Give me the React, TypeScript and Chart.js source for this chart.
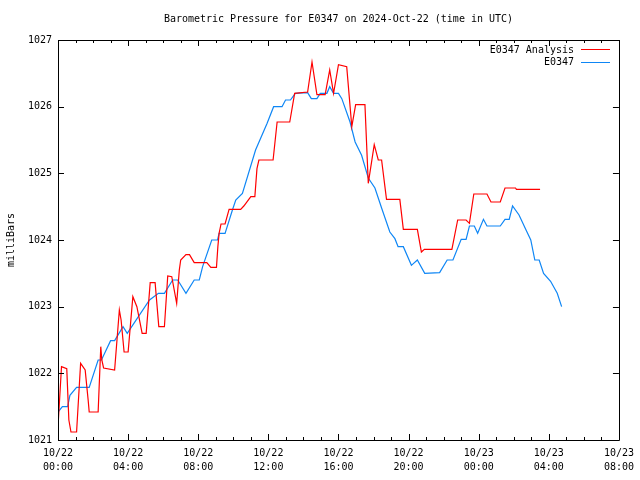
import React, { useEffect, useRef } from "react";
import { Chart, registerables } from "chart.js";

Chart.register(...registerables);

const TITLE = "Barometric Pressure for E0347 on 2024-Oct-22 (time in UTC)";
const Y_LABEL = "milliBars";
const SERIES_NAMES = ["E0347 Analysis", "E0347"];

// x tick labels (every 4 hours from 10/22 00:00)
const xTickDates = ["10/22", "10/22", "10/22", "10/22", "10/22", "10/22", "10/23", "10/23", "10/23"];
const xTickTimes = ["00:00", "04:00", "08:00", "12:00", "16:00", "20:00", "00:00", "04:00", "08:00"];

// hours since 10/22 00:00 UTC
const analysisHours = [
  0.0, 0.2, 0.5, 0.62, 0.74, 1.06, 1.29, 1.55, 1.72, 1.78, 2.29, 2.44, 2.5, 2.6, 3.23, 3.5, 3.6, 3.77, 4.0,
  4.27, 4.5, 4.8, 5.03, 5.26, 5.54, 5.75, 6.07, 6.26, 6.49, 6.77, 6.92, 7.0, 7.3, 7.5, 7.77, 8.49, 8.72,
  9.04, 9.12, 9.19, 9.3, 9.53, 9.76, 10.42, 10.6, 11.0, 11.23, 11.35, 11.46, 12.27, 12.5, 13.22, 13.5,
  14.24, 14.49, 14.77, 15.24, 15.5, 15.72, 16.0, 16.47, 16.76, 16.98, 17.51, 17.7, 18.04, 18.27, 18.46,
  18.74, 19.5, 19.7, 20.5, 20.73, 20.9, 22.47, 22.8, 23.28, 23.47, 23.72, 24.47, 24.7, 25.23, 25.5, 26.1,
  26.15, 27.5,
];
const analysisValues = [
  1021.2, 1022.1, 1022.07, 1021.3, 1021.12, 1021.12, 1022.15, 1022.05, 1021.6, 1021.42, 1021.42, 1022.4,
  1022.2, 1022.08, 1022.05, 1022.95, 1022.8, 1022.32, 1022.32, 1023.15, 1023.0, 1022.6, 1022.6, 1023.36,
  1023.36, 1022.7, 1022.7, 1023.46, 1023.45, 1023.05, 1023.55, 1023.7, 1023.78, 1023.78, 1023.66, 1023.66,
  1023.59, 1023.59, 1023.9, 1024.1, 1024.24, 1024.24, 1024.46, 1024.46, 1024.51, 1024.65, 1024.65, 1025.07,
  1025.2, 1025.2, 1025.77, 1025.77, 1026.2, 1026.22, 1026.67, 1026.18, 1026.18, 1026.55, 1026.2, 1026.63,
  1026.6, 1025.7, 1026.03, 1026.03, 1024.85, 1025.43, 1025.2, 1025.2, 1024.61, 1024.61, 1024.16, 1024.16,
  1023.82, 1023.86, 1023.86, 1024.3, 1024.3, 1024.25, 1024.69, 1024.69, 1024.57, 1024.57, 1024.78, 1024.78,
  1024.76, 1024.76,
];

const observedHours = [
  0, 0.25, 0.55, 0.68, 1.06, 1.78, 2.29, 2.48, 3.0, 3.23, 3.71, 3.95, 5.22, 5.73, 6.07, 6.54, 6.83, 7.3,
  7.77, 8.06, 8.25, 8.77, 9.1, 9.19, 9.53, 9.95, 10.14, 10.52, 11.27, 11.93, 12.3, 12.78, 12.98, 13.26,
  13.54, 14.24, 14.45, 14.77, 14.96, 15.34, 15.5, 15.72, 16.0, 16.19, 16.66, 16.95, 17.32, 17.7, 18.08,
  18.46, 18.93, 19.22, 19.4, 19.7, 20.16, 20.5, 20.92, 21.77, 22.2, 22.53, 23.0, 23.28, 23.47, 23.75,
  23.94, 24.27, 24.47, 25.23, 25.5, 25.74, 25.93, 26.3, 26.7, 26.97, 27.2, 27.45, 27.7, 28.1, 28.48, 28.73,
];
const observedValues = [
  1021.42, 1021.5, 1021.5, 1021.67, 1021.79, 1021.79, 1022.2, 1022.2, 1022.49, 1022.49, 1022.7, 1022.6,
  1023.1, 1023.2, 1023.2, 1023.4, 1023.4, 1023.2, 1023.4, 1023.4, 1023.6, 1024.0, 1024.0, 1024.1, 1024.1,
  1024.45, 1024.6, 1024.7, 1025.35, 1025.75, 1026.0, 1026.0, 1026.1, 1026.1, 1026.2, 1026.21, 1026.12,
  1026.12, 1026.2, 1026.2, 1026.3, 1026.2, 1026.2, 1026.12, 1025.77, 1025.47, 1025.27, 1024.93, 1024.78,
  1024.48, 1024.12, 1024.02, 1023.9, 1023.9, 1023.62, 1023.7, 1023.5, 1023.51, 1023.7, 1023.7, 1024.01,
  1024.01, 1024.21, 1024.21, 1024.1, 1024.31, 1024.21, 1024.21, 1024.31, 1024.31, 1024.51, 1024.375,
  1024.15, 1024.0, 1023.7, 1023.7, 1023.5, 1023.38, 1023.2, 1023.0,
];

const X_MIN = 0;
const X_MAX = 32;
const Y_MIN = 1021;
const Y_MAX = 1027;

const RED = "#ff0000";
const BLUE = "#0e86f5";
const FONT = "'DejaVu Sans Mono', 'Liberation Mono', monospace";

const decorPlugin = {
  id: "gnuplotDecor",
  afterDraw(chart: any) {
    const { ctx, chartArea } = chart;
    const { left, right, top, bottom } = chartArea;
    const xs = chart.scales.x;
    const ys = chart.scales.y;
    ctx.save();
    ctx.strokeStyle = "#000";
    ctx.lineWidth = 1;
    ctx.beginPath();
    // border
    ctx.rect(Math.round(left) + 0.5, Math.round(top) + 0.5, Math.round(right - left), Math.round(bottom - top));
    // x ticks, hourly minor, 4-hourly major
    for (let h = X_MIN; h <= X_MAX; h++) {
      const px = Math.round(xs.getPixelForValue(h)) + 0.5;
      const len = h % 4 === 0 ? 6 : 3;
      ctx.moveTo(px, bottom);
      ctx.lineTo(px, bottom - len);
      ctx.moveTo(px, top);
      ctx.lineTo(px, top + len);
    }
    for (let v = Y_MIN; v <= Y_MAX; v++) {
      const py = Math.round(ys.getPixelForValue(v)) + 0.5;
      ctx.moveTo(left, py);
      ctx.lineTo(left + 6, py);
      ctx.moveTo(right, py);
      ctx.lineTo(right - 6, py);
    }
    ctx.stroke();

    ctx.fillStyle = "#000";
    ctx.font = `10px ${FONT}`;
    // title
    ctx.textAlign = "center";
    ctx.textBaseline = "middle";
    ctx.fillText(TITLE, (left + right) / 2, 19);
    // y label
    ctx.save();
    ctx.translate(11, (top + bottom) / 2);
    ctx.rotate(-Math.PI / 2);
    ctx.fillText(Y_LABEL, 0, 0);
    ctx.restore();
    // legend
    const colors = [RED, BLUE];
    const rows = [50, 62.5];
    ctx.textAlign = "right";
    SERIES_NAMES.forEach((name, i) => {
      ctx.fillStyle = "#000";
      ctx.fillText(name, 574, rows[i]);
      ctx.strokeStyle = colors[i];
      ctx.beginPath();
      ctx.moveTo(581, Math.round(rows[i]) - 0.5);
      ctx.lineTo(610, Math.round(rows[i]) - 0.5);
      ctx.stroke();
    });
    ctx.restore();
  },
};

export default function App() {
  const ref = useRef<HTMLCanvasElement>(null);

  useEffect(() => {
    document.body.style.margin = "0";
    const canvas = ref.current;
    if (!canvas) return;
    const toPoints = (xs: number[], ys: number[]) => xs.map((x, i) => ({ x, y: ys[i] }));
    const chart = new Chart(canvas, {
      type: "line",
      data: {
        datasets: [
          {
            label: SERIES_NAMES[0],
            data: toPoints(analysisHours, analysisValues),
            borderColor: RED,
            borderWidth: 1.2,
            pointRadius: 0,
            tension: 0,
            fill: false,
          },
          {
            label: SERIES_NAMES[1],
            data: toPoints(observedHours, observedValues),
            borderColor: BLUE,
            borderWidth: 1.2,
            pointRadius: 0,
            tension: 0,
            fill: false,
          },
        ],
      },
      options: {
        animation: false,
        responsive: false,
        devicePixelRatio: 1,
        layout: { padding: { left: 0, top: 40, right: 18, bottom: 0 } },
        plugins: {
          legend: { display: false },
          title: { display: false },
          tooltip: { enabled: false },
        },
        scales: {
          x: {
            type: "linear",
            min: X_MIN,
            max: X_MAX,
            grid: { display: false, drawTicks: false },
            border: { display: false },
            ticks: {
              stepSize: 4,
              autoSkip: false,
              maxRotation: 0,
              padding: 6,
              color: "#000",
              font: { family: FONT, size: 10, lineHeight: 1.4 },
              callback: (value: any) => {
                const i = Math.round(Number(value) / 4);
                return [xTickDates[i], xTickTimes[i]];
              },
            },
            afterFit: (scale: any) => {
              scale.height = 40;
            },
          },
          y: {
            type: "linear",
            min: Y_MIN,
            max: Y_MAX,
            grid: { display: false, drawTicks: false },
            border: { display: false },
            ticks: {
              stepSize: 1,
              padding: 6,
              color: "#000",
              font: { family: FONT, size: 10 },
              callback: (value: any) => String(value),
            },
            afterFit: (scale: any) => {
              scale.width = 58;
            },
          },
        },
      },
      plugins: [decorPlugin],
    });
    return () => chart.destroy();
  }, []);

  return (
    <div style={{ position: "absolute", left: 0, top: 0, width: 640, height: 480, background: "#fff" }}>
      <canvas ref={ref} width={640} height={480} style={{ width: 640, height: 480, display: "block" }} />
    </div>
  );
}
